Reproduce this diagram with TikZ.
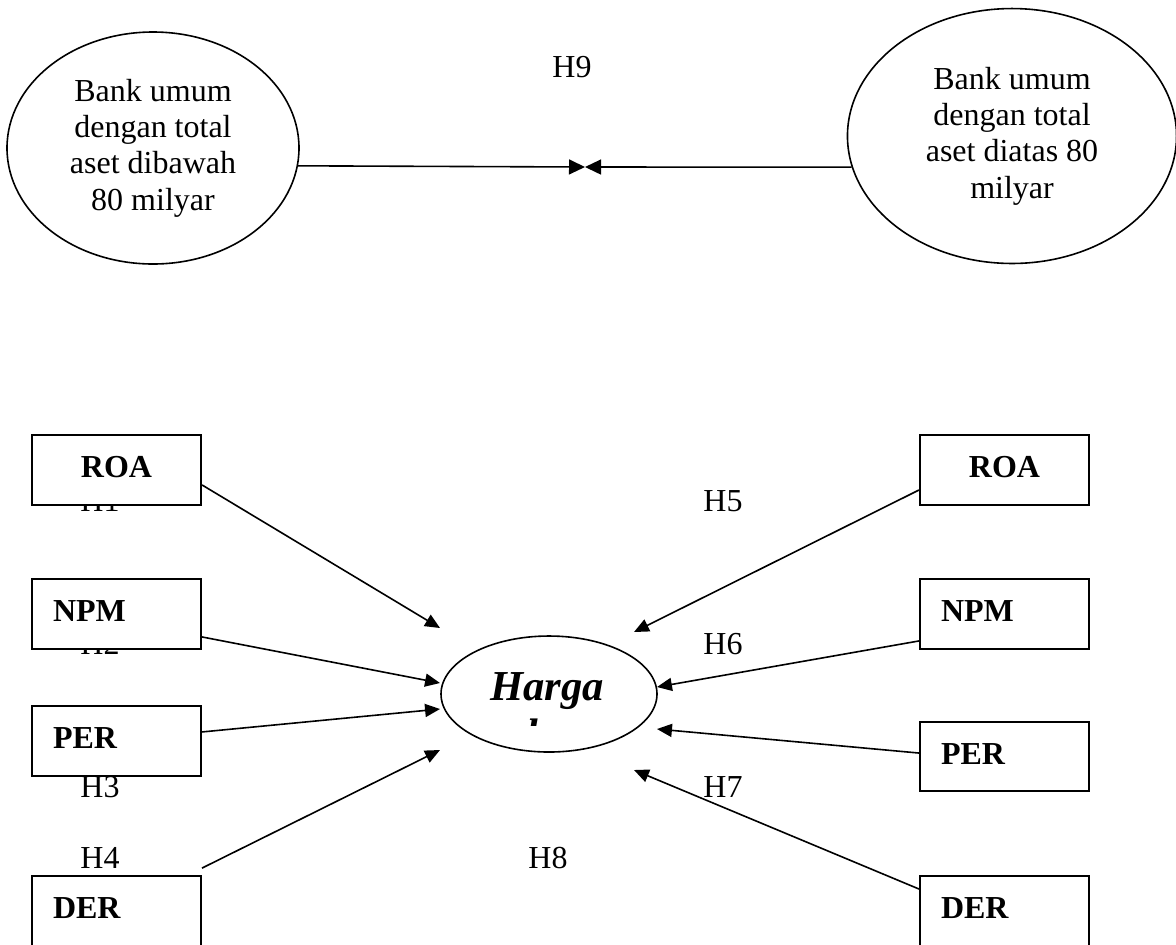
\documentclass[tikz,border=0pt]{standalone}
\usepackage{fontspec}
\setmainfont{Liberation Serif}
\usetikzlibrary{arrows.meta, positioning, shapes.geometric}
\def\ptxii{\fontsize{12}{13.6}\selectfont}
\def\boxsep{7.9pt}

\begin{document}
\begin{tikzpicture}[x=0.375pt, y=-0.375pt, line width=0.6pt, >={Triangle[length=5.6pt,width=4.9pt]}]
    \tikzstyle{var box}=[draw, line width=0.75pt, fill=white, minimum height=26pt, text width=47.6pt, text depth=2.2pt, inner xsep=\boxsep, inner ysep=0pt, align=left, font=\ptxii\bfseries]
    \tikzstyle{group}=[ellipse, draw, inner sep=0pt, align=center, font=\ptxii]
    \tikzstyle{hyp}=[anchor=base, inner sep=0pt, font=\ptxii]
    \tikzstyle{harga text}=[anchor=base, inner sep=0pt, font=\fontsize{16}{18.4}\selectfont\bfseries\itshape]

    \useasboundingbox (0,0) rectangle (1176,944);

    % the two groups of banks
    \node[group, minimum width=109.5pt, minimum height=87pt] (bankL) at (153,148) {Bank umum\\dengan total\\aset dibawah\\80 milyar};
    \node[group, minimum width=123.4pt, minimum height=95.6pt] (bankR) at (1012,136) {Bank umum\\dengan total\\aset diatas 80\\milyar};
    \coordinate (meet) at (585,167);
    \draw[->, >={Triangle[length=6pt,width=5.6pt]}] (bankL.-7.5) -- (meet);
    \draw[->, >={Triangle[length=6pt,width=5.6pt]}] (bankR.191) -- (meet);

    % hypothesis labels
    \foreach \name/\x/\y in {1/100/511, 2/100/654, 3/100/797, 4/100/868, 5/723/511, 6/723/654, 7/723/797, 8/548/868, 9/572/77}
        \node[hyp] (h\name) at (\x,\y) {H\name};

    % dependent variable
    \node[ellipse, draw, inner sep=0pt, minimum width=81pt, minimum height=43.5pt] (harga) at (549,694) {};
    \node[harga text] (hargaA) at (547,700) {Harga};
    \begin{scope}
        \clip (470,700) rectangle (630,725);
        \node[harga text] (hargaB) at (547,748) {saham};
    \end{scope}

    % ratio boxes, left group
    \node[var box, align=center] (roaL) at (116.5,470) {ROA};
    \foreach \name/\y/\txt in {npmL/614/NPM, perL/741/PER, derL/911/DER}
        \node[var box] (\name) at (116.5,\y) {\txt};

    % ratio boxes, right group
    \node[var box, align=center] (roaR) at (1004.5,470) {ROA};
    \foreach \name/\y/\txt in {npmR/614/NPM, perR/756.5/PER, derR/911/DER}
        \node[var box] (\name) at (1004.5,\y) {\txt};

    % arrow ends near the ellipse
    \foreach \name/\x/\y in {tipL1/440/628, tipL2/440/683, tipL3/440/709, tipL4/440/750, tipR1/634/632, tipR2/657/687, tipR3/657/729, tipR4/634/770}
        \coordinate (\name) at (\x,\y);

    \foreach \src/\shift/\dest in {roaL/-5.6pt/tipL1, npmL/-8.6pt/tipL2, perL/3.4pt/tipL3, derL/16.1pt/tipL4}
        \draw[->] ([yshift=\shift]\src.east) -- (\dest);
    \foreach \src/\shift/\dest in {roaR/-7.5pt/tipR1, npmR/-10.1pt/tipR2, perR/1.3pt/tipR3, derR/8.25pt/tipR4}
        \draw[->] ([yshift=\shift]\src.west) -- (\dest);
\end{tikzpicture}
\end{document}
